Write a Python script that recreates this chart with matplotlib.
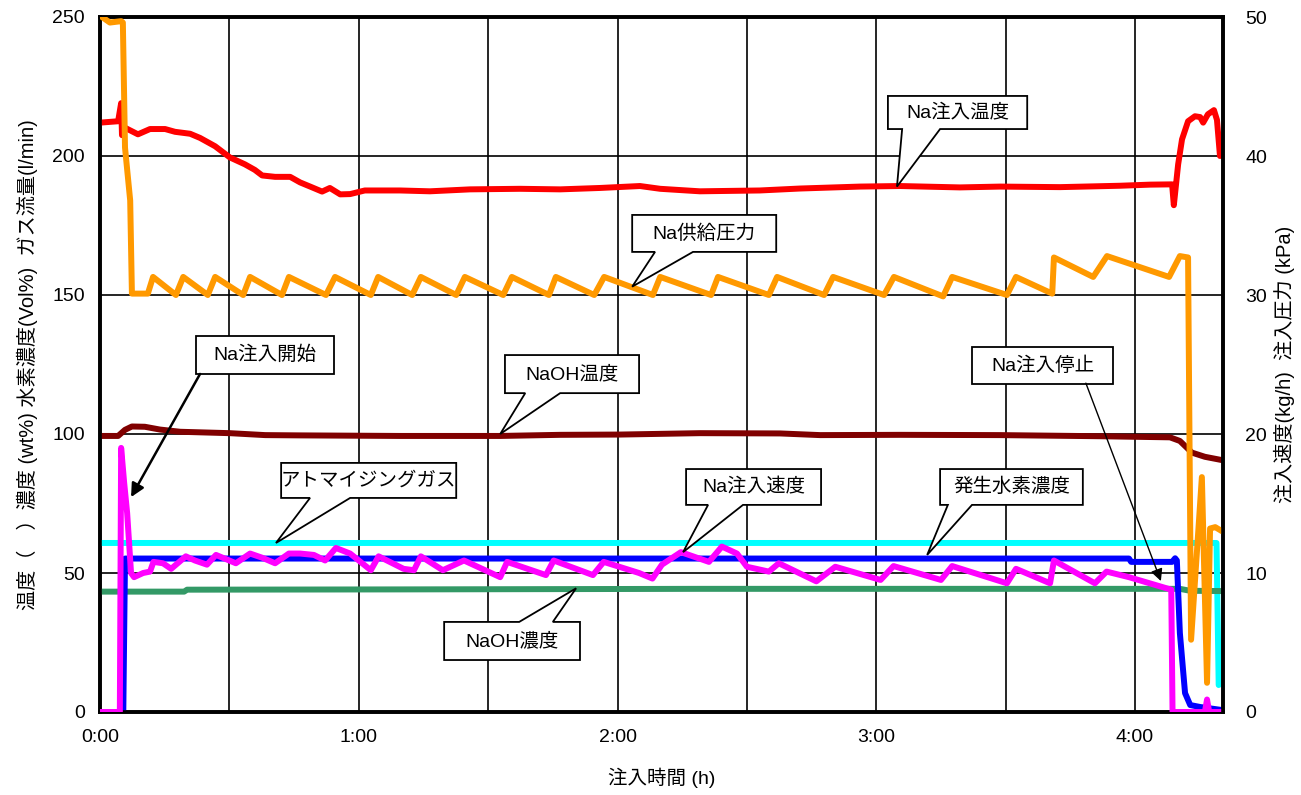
import matplotlib
matplotlib.use("Agg")
import matplotlib.pyplot as plt
from matplotlib.patches import Polygon
from matplotlib.ticker import FuncFormatter

plt.rcParams['font.family'] = ['Liberation Sans', 'Noto Sans CJK JP']

# ---- measured series (time in minutes from start of injection) ----
# Na injection temperature [deg C] (left axis)
na_temp_t = [0, 4.2, 4.9, 5.1, 6.0, 8.8, 11.6, 15.1, 17.4, 20.9, 23.2, 26.7, 30.1, 33.6,
             35.9, 37.6, 40.6, 44.1, 46.4, 49.2, 51.5, 53.3, 55.7, 58.0, 61.4, 69.6, 76.5,
             85.8, 97.4, 106.7, 115.9, 125.2, 129.9, 139.1, 153.0, 162.3, 176.2, 185.5,
             199.4, 208.7, 222.6, 236.5, 243.5, 248.6, 248.8, 249.0, 250.0, 250.9, 252.3,
             253.9, 255.1, 255.8, 256.9, 258.3, 259.0, 259.7]
na_temp_v = [212, 212.5, 219, 207.5, 210, 207.8, 209.7, 209.7, 208.7, 208, 206.5, 203.5,
             199.5, 197, 195, 193, 192.5, 192.5, 190.5, 188.7, 187.2, 188.5, 186.2, 186.3,
             187.6, 187.6, 187.3, 188, 188.2, 188, 188.5, 189.2, 188.2, 187.3, 187.6, 188.3,
             189, 189.2, 188.7, 189, 188.8, 189.3, 189.7, 189.8, 186, 182.3, 197, 206,
             212.5, 214.3, 214, 212, 215, 216.5, 213, 200]

# NaOH temperature [deg C] (left axis)
naoh_temp_t = [0, 4.2, 5.8, 7.4, 10.4, 13.9, 18.6, 30.1, 38.3, 46.4, 69.6, 92.8, 106.7,
               120.6, 139.1, 157.7, 167.0, 185.5, 208.7, 231.9, 248.1, 250.4, 253.2, 256.2,
               260.2]
naoh_temp_v = [99.3, 99.3, 101.5, 102.7, 102.6, 101.6, 100.8, 100.3, 99.6, 99.5, 99.3, 99.3,
               99.7, 99.8, 100.3, 100.2, 99.6, 99.7, 99.6, 99.2, 98.8, 97.5, 93.3, 91.8, 90.6]

# atomizing gas flow [l/min] (left axis)
gas_t = [0, 258.9, 259.4]
gas_v = [60.8, 60.8, 9.7]

# generated hydrogen concentration [vol%] (left axis)
h2_t = [0, 5.4, 5.8, 238.6, 239.1, 248.6, 249.3, 249.7, 250.4, 251.6, 252.8, 255.1, 260.2]
h2_v = [0, 0, 55.2, 55.2, 54.0, 54.0, 55.3, 54.5, 28.4, 6.8, 2.5, 1.8, 0.7]

# NaOH concentration [wt%] (left axis)
naoh_conc_t = [0, 19.5, 20.2, 69.6, 139.0, 250.4, 252.8, 260.2]
naoh_conc_v = [43.3, 43.3, 44.0, 44.1, 44.3, 44.3, 43.6, 43.5]

# Na supply pressure [kPa] (right axis)
na_press_t = [0, 2.3, 4.9, 5.3, 5.8, 7.0, 7.4, 11.1, 12.3, 17.6, 19.3, 25.0, 26.7, 33.2,
              34.8, 42.2, 43.8, 52.4, 54.5, 62.8, 64.5, 72.4, 74.4, 82.6, 84.6, 93.5, 95.5,
              104.1, 105.7, 114.6, 116.9, 128.2, 129.9, 141.7, 143.3, 155.1, 157.0, 167.9,
              170.0, 181.8, 184.1, 195.5, 197.6, 210.3, 212.4, 220.8, 221.2, 230.3, 233.5,
              247.9, 250.4, 252.3, 253.0, 255.5, 256.7, 257.4, 258.6, 260.2]
na_press_v = [50.1, 49.6, 49.7, 49.6, 40.6, 36.8, 30.1, 30.1, 31.3, 30.0, 31.3, 30.0, 31.3,
              30.0, 31.3, 30.0, 31.3, 30.0, 31.3, 30.0, 31.3, 30.0, 31.3, 30.0, 31.3, 30.0,
              31.3, 30.0, 31.3, 30.0, 31.3, 30.0, 31.3, 30.0, 31.3, 30.0, 31.3, 30.0, 31.3,
              30.0, 31.3, 29.9, 31.3, 30.0, 31.3, 30.1, 32.7, 31.3, 32.8, 31.3, 32.8, 32.7,
              5.2, 16.9, 2.1, 13.2, 13.3, 13.0]

# Na injection rate [kg/h] (right axis)
na_rate_t = [0, 4.6, 4.9, 5.6, 6.3, 7.2, 7.9, 10.0, 11.6, 12.4, 14.6, 16.5, 19.9, 22.0,
             24.8, 26.9, 31.5, 34.8, 37.6, 40.6, 43.8, 46.4, 49.6, 52.2, 54.7, 58.0, 62.8,
             64.6, 70.4, 72.8, 74.4, 79.5, 84.4, 92.8, 94.4, 103.4, 105.2, 114.3, 116.8,
             125.0, 128.1, 130.3, 134.7, 141.2, 144.2, 147.7, 150.0, 155.1, 157.4, 166.1,
             170.5, 181.0, 184.0, 195.0, 197.6, 210.3, 212.4, 220.3, 221.2, 223.8, 230.7,
             233.4, 238.6, 248.4, 248.7, 256.2, 256.7, 257.2, 260.2]
na_rate_v = [0, 0, 19.0, 16.5, 14.3, 10.0, 9.7, 10.0, 10.1, 10.8, 10.7, 10.3, 11.2, 10.9,
             10.6, 11.3, 10.7, 11.4, 11.1, 10.7, 11.4, 11.4, 11.3, 10.9, 11.8, 11.4, 10.2,
             11.2, 10.3, 10.2, 11.2, 10.2, 10.9, 9.7, 10.8, 9.85, 10.9, 9.85, 10.8, 10.0,
             9.6, 10.6, 11.5, 10.8, 11.9, 11.4, 10.45, 10.1, 10.7, 9.4, 10.45, 9.5, 10.5,
             9.5, 10.5, 9.26, 10.3, 9.26, 10.9, 10.45, 9.26, 10.1, 9.7, 8.8, 0, 0, 0.9, 0, 0]

left_ticks = [0, 50, 100, 150, 200, 250]
right_ticks = [0, 10, 20, 30, 40, 50]

# ---- figure ----
W, H = 1301, 795
fig = plt.figure(figsize=(W / 100, H / 100), dpi=100)
ax = fig.add_axes([100 / W, 1 - 712 / H, 1123 / W, 695 / H])
ax2 = ax.twinx()

ax.set_xlim(0, 260.4)
ax.set_ylim(0, 250)
ax2.set_ylim(0, 50)

lw = 4.3
kw = dict(lw=lw, solid_joinstyle='round', solid_capstyle='round')
ax.plot(gas_t, gas_v, color='#00FFFF', zorder=3, **kw)
ax.plot(naoh_conc_t, naoh_conc_v, color='#339966', zorder=3, **kw)
ax.plot(h2_t, h2_v, color='#0000FF', zorder=4, **kw)
ax.plot(naoh_temp_t, naoh_temp_v, color='#800000', zorder=4, **kw)
ax.plot(na_temp_t, na_temp_v, color='#FF0000', zorder=4, **kw)
ax2.plot(na_press_t, na_press_v, color='#FF9900', zorder=3, **kw)
ax2.plot(na_rate_t, na_rate_v, color='#FF00FF', zorder=4, **kw)

# grid every 30 min / every 50 units, labels on the hour
ax.set_xticks(list(range(0, 261, 30)))
ax.xaxis.set_major_formatter(FuncFormatter(
    lambda m, p: f"{int(m) // 60}:{int(m) % 60:02d}" if int(m) % 60 == 0 else ""))
ax.set_yticks(left_ticks)
ax2.set_yticks(right_ticks)
ax.grid(True, color='black', lw=1.2, zorder=0)
ax.set_axisbelow(True)

ax.tick_params(axis='both', length=0, labelsize=14)
ax.tick_params(axis='y', pad=11)
ax.tick_params(axis='x', pad=12)
ax2.tick_params(axis='y', length=0, labelsize=14, pad=16)

for a in (ax, ax2):
    for s in a.spines.values():
        s.set_linewidth(2.6)
        s.set_color('black')
    a.spines['right'].set_zorder(10)

ax.set_xlabel('注入時間 (h)', fontsize=14, labelpad=16)
ax.set_ylabel('温度（　）濃度 (wt%) 水素濃度(Vol%)  ガス流量(l/min)', fontsize=14.5, labelpad=10)
ax2.set_ylabel('注入速度(kg/h)  注入圧力 (kPa)', fontsize=14.5, labelpad=5)

BOX_FS = 14


# ---- callouts (positions in minutes / left-axis units) ----
def callout(text, box, base, tip, side='bottom'):
    L, R, B, T = box
    b0, b1 = base
    if side == 'bottom':
        pts = [(L, T), (R, T), (R, B), (b1, B), tip, (b0, B), (L, B)]
    else:
        pts = [(L, B), (R, B), (R, T), (b1, T), tip, (b0, T), (L, T)]
    poly = Polygon(pts, closed=True, facecolor='white', edgecolor='black', lw=1.3,
                   transform=ax.transData, zorder=20, clip_on=False)
    ax2.add_patch(poly)
    ax2.text((L + R) / 2, (B + T) / 2, text, transform=ax.transData, ha='center',
             va='center', fontsize=BOX_FS, zorder=21)


def arrow_box(text, box, start, tip, width, head):
    L, R, B, T = box
    ax2.add_patch(Polygon([(L, B), (R, B), (R, T), (L, T)], closed=True, facecolor='white',
                          edgecolor='black', lw=1.3, transform=ax.transData, zorder=20))
    ax2.text((L + R) / 2, (B + T) / 2, text, transform=ax.transData, ha='center',
             va='center', fontsize=BOX_FS, zorder=21)
    ax2.annotate('', xy=tip, xytext=start, xycoords=ax.transData, textcoords=ax.transData,
                 arrowprops=dict(arrowstyle='-|>', lw=width, color='black',
                                 mutation_scale=head, shrinkA=0, shrinkB=0), zorder=21)


callout('Na注入温度', (182.7, 215.0, 209.7, 221.6), (186.0, 194.8), (184.8, 189.0))
callout('Na供給圧力', (123.4, 156.8, 165.5, 178.8), (128.7, 137.5), (123.4, 153.0))
callout('NaOH温度', (93.9, 125.0, 114.7, 128.4), (98.6, 106.7), (92.8, 100.0))
callout('アトマイジングガス', (42.0, 82.6, 77.0, 89.6), (48.7, 58.0), (40.8, 60.8))
callout('Na注入速度', (135.9, 167.2, 74.5, 87.4), (141.0, 149.1), (135.2, 57.5))
callout('発生水素濃度', (194.8, 227.9, 74.5, 87.4), (196.6, 202.2), (191.8, 56.5))
callout('NaOH濃度', (79.8, 111.3, 18.7, 32.4), (97.2, 105.0), (110.4, 44.5), side='top')
arrow_box('Na注入開始', (22.3, 54.3, 121.6, 135.3), (23.2, 121.6), (7.2, 77.3), 1.8, 20)
arrow_box('Na注入停止', (202.2, 234.9, 118.0, 131.3), (228.6, 118.3), (246.0, 47.1), 1.0, 18)

fig.savefig('out.png', dpi=100, facecolor='white')
